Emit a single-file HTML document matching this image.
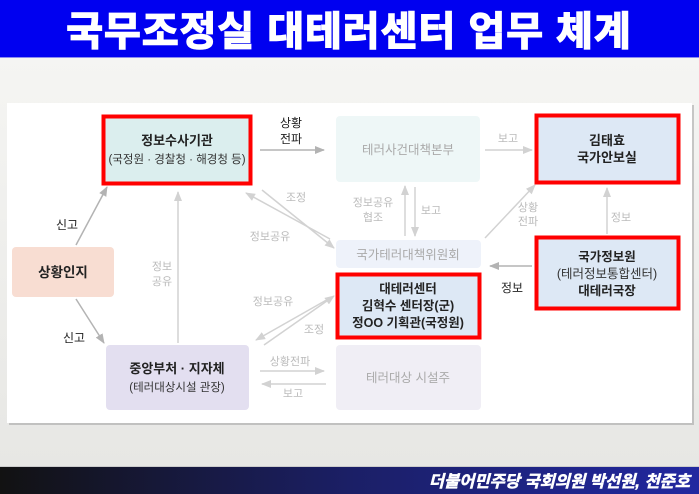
<!DOCTYPE html>
<html><head><meta charset="utf-8"><style>
html,body{margin:0;padding:0;width:699px;height:494px;overflow:hidden;background:linear-gradient(#f7f7f5,#e6e6e3);}
svg{display:block;}
text{font-family:"Liberation Sans","Noto Sans CJK KR",sans-serif;}
</style></head><body>
<svg width="699" height="494" viewBox="0 0 699 494">
<defs>
<marker id="a" markerWidth="10" markerHeight="8" refX="9" refY="4" orient="auto" markerUnits="userSpaceOnUse"><path d="M0,0 L10,4 L0,8 z" fill="#b3b3b3"/></marker>
<marker id="b" markerWidth="10" markerHeight="8" refX="9" refY="4" orient="auto" markerUnits="userSpaceOnUse"><path d="M0,0 L10,4 L0,8 z" fill="#d2d2d2"/></marker>
<linearGradient id="ft" x1="0" x2="1"><stop offset="0" stop-color="#121212"/><stop offset="0.5" stop-color="#1b1f66"/><stop offset="1" stop-color="#2228a0"/></linearGradient>
</defs>
<rect x="0" y="0" width="699" height="58" fill="#0000f0"/>
<rect x="0" y="57" width="699" height="1" fill="#8a8af0"/>
<text x="349" y="45" text-anchor="middle" font-size="40" font-weight="bold" fill="#fff" stroke="#fff" stroke-width="1.4" letter-spacing="1">국무조정실 대테러센터 업무 체계</text>
<rect x="9" y="105" width="685" height="320" fill="#999" opacity="0.5"/>
<rect x="7" y="103" width="685" height="320" fill="#fff"/>
<rect x="12" y="247" width="102" height="50" rx="4" fill="#f8ddd2"/>
<text x="63" y="277" text-anchor="middle" font-size="13.5" font-weight="bold" fill="#222">상황인지</text>
<rect x="103.5" y="116.5" width="147" height="67" fill="#dbeeee" stroke="#ff0000" stroke-width="4"/>
<text x="177" y="145" text-anchor="middle" font-size="13" font-weight="bold" fill="#222">정보수사기관</text>
<text x="177" y="163" text-anchor="middle" font-size="11.5" fill="#333">(국정원 · 경찰청 · 해경청 등)</text>
<rect x="106" y="345" width="143" height="65" rx="4" fill="#e3dff0"/>
<text x="177" y="373" text-anchor="middle" font-size="13" font-weight="bold" fill="#222">중앙부처 · 지자체</text>
<text x="177" y="391" text-anchor="middle" font-size="11.5" fill="#333">(테러대상시설 관장)</text>
<rect x="336" y="116" width="144" height="66" rx="4" fill="#eef7f7"/>
<text x="408" y="154" text-anchor="middle" font-size="12.5" fill="#aaa">테러사건대책본부</text>
<rect x="336" y="240" width="145" height="28" rx="4" fill="#eef2fa"/>
<text x="408" y="259" text-anchor="middle" font-size="12.5" fill="#aaa">국가테러대책위원회</text>
<rect x="337.5" y="274.5" width="142" height="63" fill="#dde8f5" stroke="#ff0000" stroke-width="4"/>
<text x="408" y="293" text-anchor="middle" font-size="12.5" font-weight="bold" fill="#222">대테러센터</text>
<text x="408" y="310" text-anchor="middle" font-size="12.5" font-weight="bold" fill="#222">김혁수 센터장(군)</text>
<text x="408" y="327" text-anchor="middle" font-size="12.5" font-weight="bold" fill="#222">정OO 기획관(국정원)</text>
<rect x="336" y="345" width="145" height="65" rx="4" fill="#f0eef5"/>
<text x="408" y="382" text-anchor="middle" font-size="12.5" fill="#aaa">테러대상 시설주</text>
<rect x="536.5" y="115.5" width="142" height="67" fill="#dde8f5" stroke="#ff0000" stroke-width="4"/>
<text x="607" y="145" text-anchor="middle" font-size="13" font-weight="bold" fill="#222">김태효</text>
<text x="607" y="162" text-anchor="middle" font-size="13" font-weight="bold" fill="#222">국가안보실</text>
<rect x="536.5" y="237.5" width="142" height="71" fill="#dde8f5" stroke="#ff0000" stroke-width="4"/>
<text x="607" y="261" text-anchor="middle" font-size="12.5" font-weight="bold" fill="#222">국가정보원</text>
<text x="607" y="278" text-anchor="middle" font-size="12.5" fill="#333">(테러정보통합센터)</text>
<text x="607" y="295" text-anchor="middle" font-size="12.5" font-weight="bold" fill="#222">대테러국장</text>
<g stroke="#b3b3b3" stroke-width="1.5" fill="none">
<line x1="76" y1="245" x2="107" y2="187" marker-end="url(#a)"/>
<line x1="76" y1="299" x2="104" y2="343" marker-end="url(#a)"/>
<line x1="260" y1="150" x2="324" y2="150" marker-end="url(#a)"/>
<line x1="532" y1="266" x2="490" y2="266" marker-end="url(#a)"/>
</g>
<g stroke="#d2d2d2" stroke-width="1.5" fill="none">
<line x1="178" y1="343" x2="178" y2="192" marker-end="url(#b)"/>
<line x1="330" y1="239" x2="246" y2="193" marker-end="url(#b)"/>
<line x1="262" y1="190" x2="334" y2="248" marker-end="url(#b)"/>
<line x1="330" y1="298" x2="256" y2="340" marker-end="url(#b)"/>
<line x1="264" y1="345" x2="334" y2="296" marker-end="url(#b)"/>
<line x1="260" y1="371" x2="324" y2="371" marker-end="url(#b)"/>
<line x1="326" y1="384" x2="262" y2="384" marker-end="url(#b)"/>
<line x1="485" y1="150" x2="532" y2="150" marker-end="url(#b)"/>
<line x1="405" y1="236" x2="405" y2="186" marker-end="url(#b)"/>
<line x1="415" y1="187" x2="415" y2="236" marker-end="url(#b)"/>
<line x1="485" y1="238" x2="535" y2="185" marker-end="url(#b)"/>
<line x1="607" y1="234" x2="607" y2="188" marker-end="url(#b)"/>
</g>
<g font-size="12" fill="#222" text-anchor="middle">
<text x="291" y="127">상황</text><text x="291" y="143">전파</text>
<text x="67" y="229">신고</text>
<text x="74" y="342">신고</text>
<text x="512" y="292">정보</text>
</g>
<g font-size="11" fill="#bbb" text-anchor="middle">
<text x="296" y="201">조정</text>
<text x="270" y="240">정보공유</text>
<text x="162" y="270">정보</text><text x="162" y="285">공유</text>
<text x="273" y="305">정보공유</text>
<text x="314" y="333">조정</text>
<text x="290" y="365">상황전파</text>
<text x="293" y="397">보고</text>
<text x="508" y="142">보고</text>
<text x="373" y="206">정보공유</text><text x="373" y="221">협조</text>
<text x="431" y="214">보고</text>
<text x="528" y="211">상황</text><text x="528" y="225">전파</text>
<text x="621" y="221">정보</text>
</g>
<rect x="0" y="467" width="699" height="27" fill="url(#ft)"/>
<rect x="0" y="466" width="699" height="1" fill="#ccc"/>
<text x="690" y="487" text-anchor="end" font-size="16.5" font-weight="bold" font-style="italic" fill="#fff" stroke="#fff" stroke-width="0.5">더불어민주당 국회의원 박선원, 천준호</text>
</svg>
</body></html>
